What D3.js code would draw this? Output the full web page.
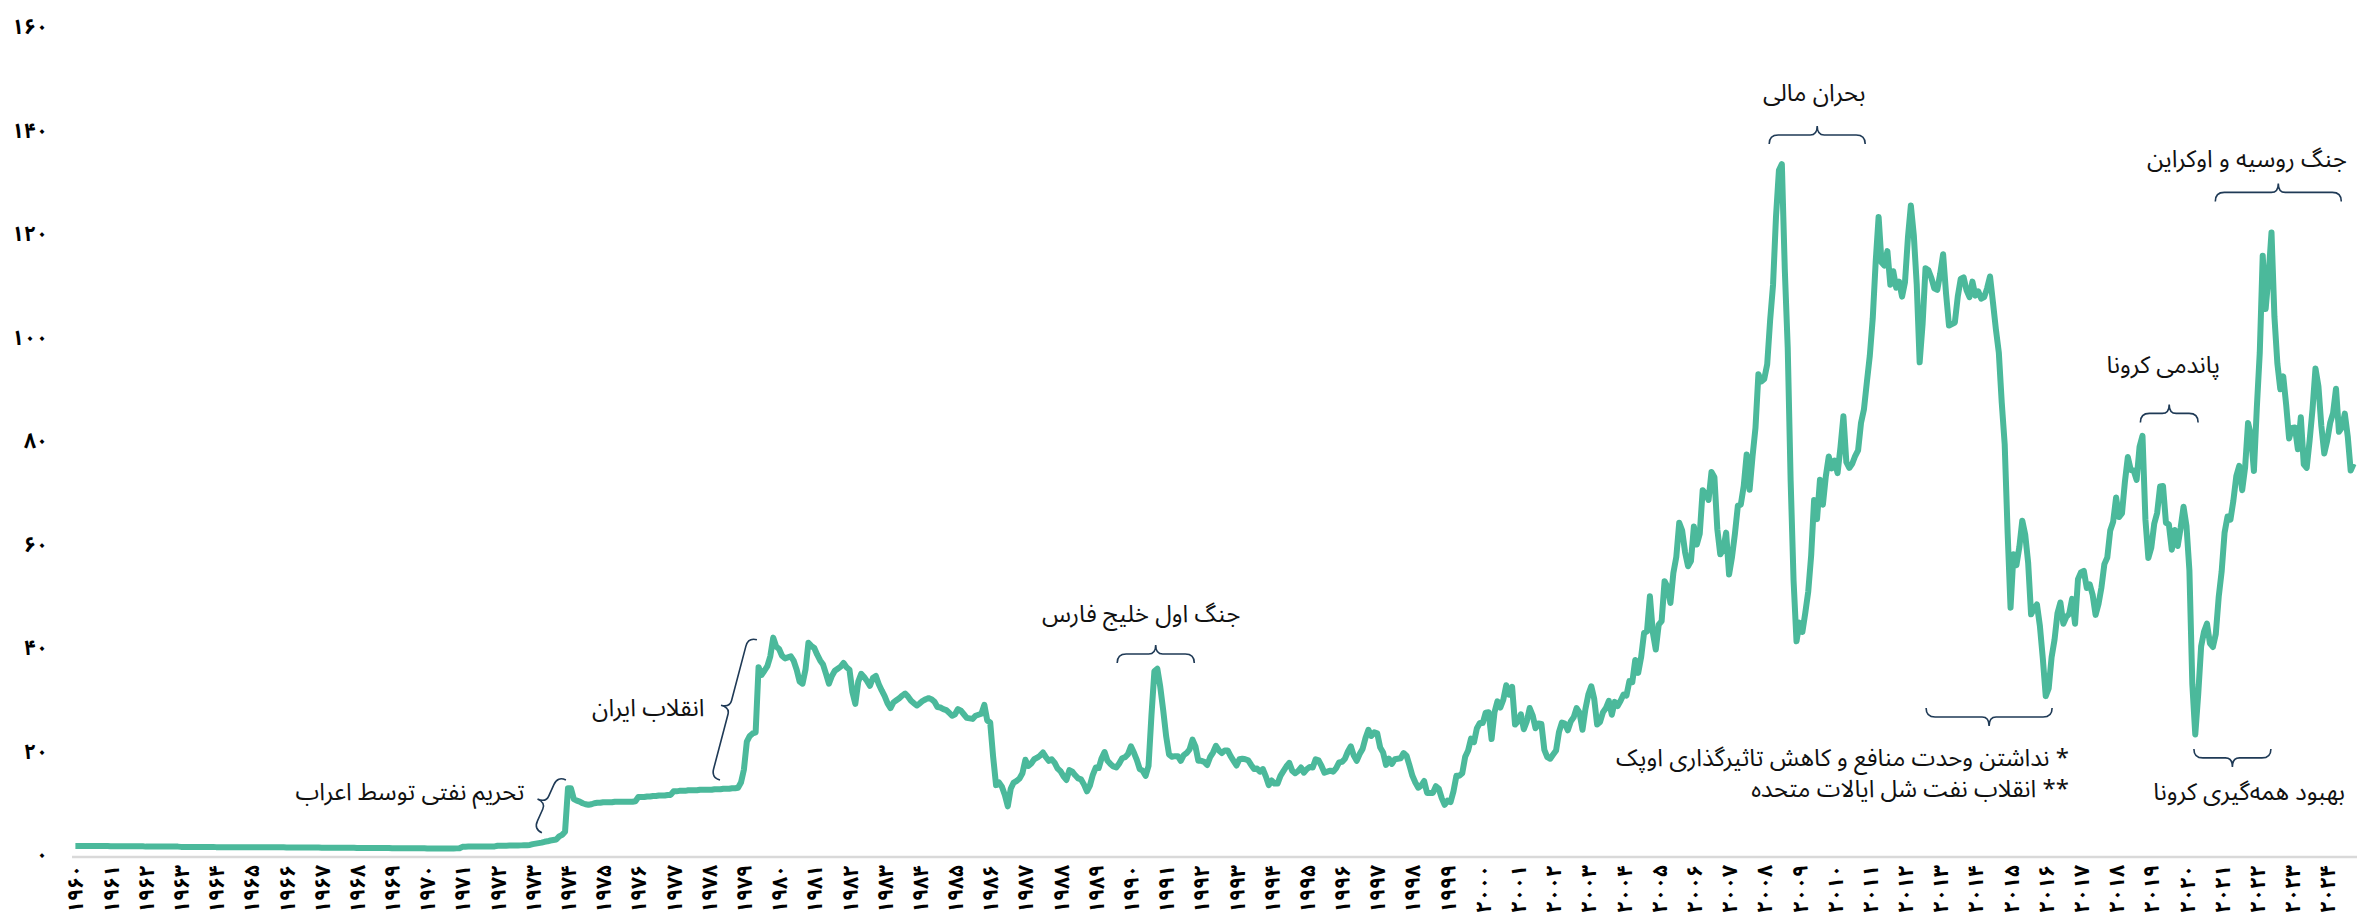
<!DOCTYPE html>
<html>
<head>
<meta charset="utf-8">
<style>
  body { margin: 0; background: #fff; }
  svg { display: block; }
  text { font-family: "Noto Sans Arabic", "DejaVu Sans", sans-serif; }
</style>
<script src="https://cdn.jsdelivr.net/npm/d3@7"></script>
</head>
<body>
<script>
// monthly crude oil price (USD / barrel), one row per year, Jan..Dec
var p1960s = [
  1.72,1.72,1.72,1.72,1.72,1.72,1.72,1.72,1.72,1.72,1.72,1.72,
  1.67,1.67,1.67,1.67,1.67,1.67,1.67,1.67,1.67,1.67,1.67,1.67,
  1.62,1.62,1.62,1.62,1.62,1.62,1.62,1.62,1.62,1.62,1.62,1.62,
  1.57,1.57,1.57,1.57,1.57,1.57,1.57,1.57,1.57,1.57,1.57,1.57,
  1.52,1.52,1.52,1.52,1.52,1.52,1.52,1.52,1.52,1.52,1.52,1.52,
  1.48,1.48,1.48,1.48,1.48,1.48,1.48,1.48,1.48,1.48,1.48,1.48,
  1.44,1.44,1.44,1.44,1.44,1.44,1.44,1.44,1.44,1.44,1.44,1.44,
  1.40,1.40,1.40,1.40,1.40,1.40,1.40,1.40,1.40,1.40,1.40,1.40,
  1.36,1.36,1.36,1.36,1.36,1.36,1.36,1.36,1.36,1.36,1.36,1.36,
  1.31,1.31,1.31,1.31,1.31,1.31,1.31,1.31,1.31,1.31,1.31,1.31
];
var p1970s = [
  1.26,1.26,1.26,1.26,1.26,1.26,1.26,1.26,1.26,1.26,1.28,1.30,
  1.58,1.60,1.62,1.62,1.62,1.63,1.64,1.64,1.65,1.65,1.66,1.66,
  1.78,1.79,1.80,1.81,1.82,1.83,1.84,1.85,1.86,1.88,1.90,1.95,
  2.10,2.20,2.30,2.40,2.55,2.65,2.80,2.90,3.00,3.60,3.90,4.50,
  12.9,12.9,10.8,10.5,10.3,10.0,9.8,9.7,9.8,10.0,10.1,10.1,
  10.2,10.2,10.2,10.2,10.3,10.3,10.3,10.3,10.3,10.3,10.3,10.4,
  11.2,11.2,11.2,11.3,11.3,11.4,11.4,11.5,11.5,11.5,11.6,11.6,
  12.3,12.3,12.4,12.4,12.4,12.5,12.5,12.5,12.5,12.6,12.6,12.6,
  12.6,12.6,12.7,12.7,12.7,12.8,12.8,12.8,12.9,12.9,13.0,14.0,
  16.5,21.9,23.0,23.5,23.7,36.3,34.8,35.6,36.5,38.4,42.0,40.3
];
var p1980s = [
  39.8,38.5,38.0,38.2,38.4,37.5,35.8,33.5,33.1,35.8,41.0,40.4,
  40.0,38.7,37.6,36.8,35.0,33.1,34.6,35.6,36.0,36.4,37.1,36.3,
  35.8,31.5,29.2,33.5,35.0,34.4,33.6,32.7,34.2,34.6,33.0,31.8,
  30.7,29.3,28.4,29.5,29.9,30.3,30.8,31.2,30.6,29.8,29.3,28.9,
  29.3,29.8,30.1,30.3,30.1,29.6,28.6,28.5,28.2,28.0,27.5,26.9,
  27.2,28.2,27.9,27.2,26.5,26.4,26.3,26.9,27.1,27.3,29.0,26.0,
  25.6,19.0,13.5,14.0,13.2,11.6,9.4,12.8,14.0,14.3,14.8,15.8,
  18.4,17.2,17.7,18.5,18.8,19.2,19.8,18.9,18.2,18.5,17.8,16.7,
  16.2,15.2,14.5,16.4,16.1,15.4,14.8,14.6,13.6,12.3,13.4,15.5,
  16.9,16.8,18.7,19.9,18.2,17.6,17.1,16.9,17.7,18.7,18.9,19.5
];
var p1990s = [
  21.0,19.8,18.4,16.6,16.3,15.3,17.2,27.0,35.5,36.0,32.5,28.0,
  23.0,19.4,19.0,19.1,19.1,18.2,19.3,19.7,20.4,22.3,21.0,18.2,
  18.2,18.0,17.4,18.9,19.8,21.1,20.2,19.7,20.2,20.2,19.1,18.2,
  17.3,18.5,18.6,18.5,18.3,17.4,16.6,16.7,16.1,16.6,15.2,13.5,
  14.4,13.8,13.8,15.3,16.2,17.1,17.8,16.3,15.8,16.2,16.9,15.9,
  16.6,17.0,16.9,18.5,18.3,17.2,15.9,16.1,16.3,16.1,16.8,17.9,
  18.0,18.6,20.0,21.0,19.2,18.2,19.5,20.5,22.6,24.2,23.0,23.7,
  23.5,20.8,19.8,17.4,18.6,17.6,18.5,18.6,18.7,19.7,19.2,17.3,
  15.3,14.0,13.0,13.4,14.3,12.0,12.0,12.0,13.3,12.8,11.0,9.7,
  10.5,10.2,12.3,15.3,15.3,15.8,19.0,20.2,22.5,21.8,24.5,25.5
];
var p2000s = [
  25.5,27.5,27.6,22.4,27.6,29.7,28.5,30.0,32.8,31.0,32.5,25.2,
  25.8,27.2,24.3,25.8,28.4,27.0,24.5,25.4,25.3,20.3,18.9,18.6,
  19.4,20.2,23.8,25.6,25.4,24.1,25.8,26.6,28.4,27.5,24.2,28.2,
  31.0,32.6,30.2,25.2,25.7,27.6,28.4,29.8,27.1,29.6,28.8,29.8,
  31.0,30.8,33.6,33.4,37.7,35.2,38.2,42.9,43.2,50.0,43.0,39.7,
  44.5,45.2,52.9,51.8,48.7,54.5,57.6,64.2,62.7,58.5,55.8,56.8,
  63.5,60.0,62.1,70.5,69.8,68.6,74.0,73.0,62.9,58.1,59.0,62.3,
  54.2,57.6,62.1,67.5,67.7,71.3,77.4,70.6,77.0,82.5,92.9,91.5,
  92.0,94.8,103.3,110.2,123.3,132.3,133.5,113.2,98.1,72.3,53.0,41.3,
  44.9,43.1,46.8,50.9,57.9,68.6,64.9,72.5,67.7,73.2,77.0,74.7
];
var p2010s = [
  76.2,73.8,78.8,84.8,75.9,74.8,75.6,77.1,78.2,83.5,86.1,91.4,
  96.5,103.7,114.6,123.3,114.5,113.9,116.7,110.2,112.8,109.6,110.8,107.9,
  110.7,119.3,125.5,119.8,110.3,95.2,102.6,113.4,113.0,111.5,109.5,109.2,
  112.3,116.1,108.5,102.3,102.6,102.9,107.9,111.3,111.6,109.1,107.8,110.8,
  108.1,108.9,107.5,107.8,109.5,111.8,106.8,101.6,97.1,87.4,79.4,62.3,
  47.8,58.1,56.0,59.5,64.6,61.9,56.5,46.5,47.6,48.4,44.3,38.0,
  30.7,32.2,38.2,41.6,46.7,48.8,44.7,46.0,46.6,49.5,44.7,53.3,
  54.6,54.9,51.6,52.3,50.3,46.4,48.5,51.7,56.2,57.5,62.7,64.4,
  69.1,65.3,66.0,72.1,76.9,74.4,74.3,72.5,78.9,81.0,64.8,57.4,
  59.4,64.0,66.1,71.2,71.3,64.2,63.9,59.0,62.8,59.7,63.2,67.3
];
var p2020s = [
  63.6,55.0,33.0,23.3,31.0,40.3,43.2,44.7,40.9,40.2,42.7,49.9,
  54.8,62.3,65.4,64.8,68.5,73.2,75.2,70.5,74.9,83.5,81.1,74.2,
  86.5,97.1,115.8,105.5,112.0,120.3,104.0,95.0,90.0,92.5,87.0,80.5,
  82.5,82.6,78.4,84.6,75.5,74.8,80.1,86.2,94.0,90.6,82.9,77.6,
  80.1,83.5,85.4,90.1,81.8,82.6,85.3,80.9,74.3,75.6
];

var startYear = 1960;
var yearLabels = d3.range(1960, 2025);
var yTicks = [0, 20, 40, 60, 80, 100, 120, 140, 160];

// annotations, anchored in chart units (year, price)
var notes = [
  {text: "تحریم نفتی توسط اعراب", year: 1969.51, value: 12.2, anchor: "middle"},
  {text: "انقلاب ایران", year: 1976.28, value: 28.4, anchor: "middle"},
  {text: "جنگ اول خلیج فارس", year: 1990.29, value: 46.6, anchor: "middle"},
  {text: "بحران مالی", year: 2009.42, value: 147.4, anchor: "middle"},
  {text: "جنگ روسیه و اوکراین", year: 2021.72, value: 134.5, anchor: "middle"},
  {text: "پاندمی کرونا", year: 2019.34, value: 94.8, anchor: "middle"},
  {text: "* نداشتن وحدت منافع و کاهش تاثیرگذاری اوپک", year: 2016.66, value: 18.8, anchor: "start"},
  {text: "** انقلاب نفت شل ایالات متحده", year: 2016.66, value: 12.9, anchor: "start"},
  {text: "بهبود همه‌گیری کرونا", year: 2021.78, value: 12.2, anchor: "middle"}
];
// braces: two ends (year, price), side = which way the tip points
var braces = [
  {y1: 1973.94, v1: 14.5, y2: 1973.26, v2: 4.3, side: 1},
  {y1: 1979.37, v1: 41.6, y2: 1978.32, v2: 14.5, side: 1},
  {y1: 1989.61, v1: 37.1, y2: 1991.80, v2: 37.1, side: -1},
  {y1: 2008.14, v1: 137.4, y2: 2010.87, v2: 137.4, side: -1},
  {y1: 2020.82, v1: 126.3, y2: 2024.40, v2: 126.3, side: -1},
  {y1: 2018.69, v1: 83.6, y2: 2020.33, v2: 83.6, side: -1},
  {y1: 2012.60, v1: 28.4, y2: 2016.18, v2: 28.4, side: 1},
  {y1: 2020.21, v1: 20.5, y2: 2022.40, v2: 20.5, side: 1}
];

var prices = [].concat(p1960s, p1970s, p1980s, p1990s, p2000s, p2010s, p2020s);
var data = prices.map(function(v, i) { return {i: i, v: v}; });

var width = 2357, height = 924;
var faDigits = "۰۱۲۳۴۵۶۷۸۹";
function fa(n) { return String(n).replace(/\d/g, function(d) { return faDigits[d]; }); }

var svg = d3.select("body").append("svg")
  .attr("width", width)
  .attr("height", height);

var x = d3.scaleLinear().domain([0, 777]).range([75.4, 2353.6]);
var y = d3.scaleLinear().domain([0, 160]).range([855, 27]);
function xYear(yr) { return x((yr - startYear) * 12); }

// baseline
svg.append("line")
  .attr("x1", 72).attr("x2", width)
  .attr("y1", y(0) + 2).attr("y2", y(0) + 2)
  .attr("stroke", "#d9d9d9")
  .attr("stroke-width", 2.5);

// y axis labels
var yAxis = svg.append("g")
  .attr("transform", "translate(48,0)")
  .call(d3.axisLeft(y).tickValues(yTicks).tickFormat(fa).tickSize(0).tickPadding(0));
yAxis.select(".domain").remove();
yAxis.selectAll("text")
  .attr("font-family", "'DejaVu Sans', sans-serif")
  .attr("font-size", 21)
  .attr("font-weight", "bold")
  .attr("fill", "#000")
  .attr("direction", "ltr");

// x axis labels, rotated
var xAxis = svg.append("g")
  .attr("transform", "translate(0," + y(0) + ")")
  .call(d3.axisBottom(x)
    .tickValues(yearLabels.map(function(yr) { return (yr - startYear) * 12; }))
    .tickFormat(function(i) { return fa(startYear + i / 12); })
    .tickSize(0));
xAxis.select(".domain").remove();
xAxis.selectAll("text")
  .attr("transform", "rotate(-90)")
  .attr("text-anchor", "end")
  .attr("x", -10)
  .attr("y", 0)
  .attr("dy", "0.36em")
  .attr("font-family", "'DejaVu Sans', sans-serif")
  .attr("font-size", 21)
  .attr("font-weight", "bold")
  .attr("fill", "#000")
  .attr("direction", "ltr");

// price line
svg.append("path")
  .datum(data)
  .attr("fill", "none")
  .attr("stroke", "#4bb99b")
  .attr("stroke-width", 6)
  .attr("stroke-linejoin", "round")
  .attr("d", d3.line()
    .x(function(d) { return x(d.i); })
    .y(function(d) { return y(d.v); }));

// curly braces
function bracePath(x1, y1, x2, y2, side) {
  var h = 18, rail = 9, r = 9, t = 7;
  var dx = x2 - x1, dy = y2 - y1, L = Math.hypot(dx, dy);
  var ux = dx / L, uy = dy / L;
  var nx = -uy * side, ny = ux * side;
  function p(u, v) { return (x1 + ux * u + nx * v).toFixed(1) + "," + (y1 + uy * u + ny * v).toFixed(1); }
  var m = L / 2;
  return "M" + p(0, 0) +
    "Q" + p(0, rail) + " " + p(r, rail) +
    "L" + p(m - t, rail) +
    "Q" + p(m, rail) + " " + p(m, h) +
    "Q" + p(m, rail) + " " + p(m + t, rail) +
    "L" + p(L - r, rail) +
    "Q" + p(L, rail) + " " + p(L, 0);
}

svg.append("g").selectAll("path")
  .data(braces)
  .enter().append("path")
  .attr("fill", "none")
  .attr("stroke", "#1f3a56")
  .attr("stroke-width", 1.6)
  .attr("d", function(b) { return bracePath(xYear(b.y1), y(b.v1), xYear(b.y2), y(b.v2), b.side); });

// annotation texts
svg.append("g").selectAll("text")
  .data(notes)
  .enter().append("text")
  .attr("x", function(d) { return xYear(d.year); })
  .attr("y", function(d) { return y(d.value); })
  .attr("dy", "0.35em")
  .attr("direction", "rtl")
  .attr("text-anchor", function(d) { return d.anchor; })
  .attr("font-size", 24)
  .attr("fill", "#111")
  .text(function(d) { return d.text; });
</script>
</body>
</html>
